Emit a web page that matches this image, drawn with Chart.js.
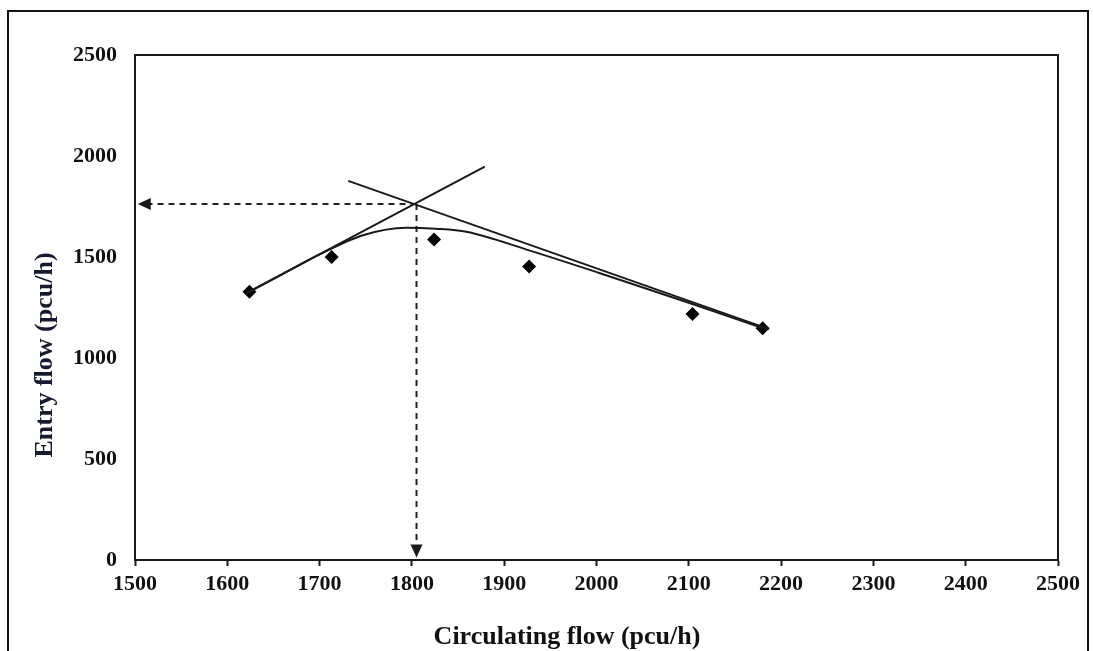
<!DOCTYPE html>
<html>
<head>
<meta charset="utf-8">
<title>Entry flow vs circulating flow</title>
<script src="https://cdn.jsdelivr.net/npm/chart.js@4/dist/chart.umd.min.js"></script>
<style>
  html, body { margin: 0; padding: 0; background: #fff; }
  #wrap { position: relative; width: 1093px; height: 651px; }
</style>
</head>
<body>
<div id="wrap"><canvas id="flowChart" width="1093" height="651"></canvas></div>
<script>
// observed entry flow against circulating flow (pcu/h)
const obsCirc  = [1624, 1713, 1824, 1927, 2104, 2180];
const obsEntry = [1328, 1500, 1587, 1453, 1218, 1147];

// fitted curve through the observations
const fitCirc  = [1624, 1660, 1700, 1747, 1794, 1826, 1859, 1927, 2003, 2104, 2180];
const fitEntry = [1328, 1415, 1513, 1608, 1645, 1640, 1625, 1533, 1421, 1267, 1148];

// the two straight asymptotes (start and end points)
const riseCirc  = [1620, 1879];
const riseEntry = [1320, 1947];
const fallCirc  = [1731, 2187];
const fallEntry = [1877, 1143];

// capacity read-off at the intersection
const capCirc  = 1805;
const capEntry = 1762;
const guideEnds = { circ: 1503, entry: 12 };

const xTicks = [1500, 1600, 1700, 1800, 1900, 2000, 2100, 2200, 2300, 2400, 2500];
const yTicks = [0, 500, 1000, 1500, 2000, 2500];

const ink = '#1a1a1a';
const serif = "'Liberation Serif', 'Times New Roman', serif";

function pts(xs, ys) {
  return xs.map((x, i) => ({ x: x, y: ys[i] }));
}

// outer frame, plot box, arrowheads and axis titles
const extras = {
  id: 'extras',
  beforeDraw(chart) {
    const ctx = chart.ctx;
    ctx.save();
    ctx.fillStyle = '#fff';
    ctx.fillRect(0, 0, chart.width, chart.height);
    ctx.strokeStyle = '#111';
    ctx.lineWidth = 2;
    ctx.beginPath();
    ctx.moveTo(8, 651);
    ctx.lineTo(8, 11);
    ctx.lineTo(1088, 11);
    ctx.lineTo(1088, 651);
    ctx.stroke();
    ctx.restore();
  },
  afterDraw(chart) {
    const ctx = chart.ctx;
    const a = chart.chartArea;
    const xs = chart.scales.x, ys = chart.scales.y;
    ctx.save();
    ctx.strokeStyle = ink;
    ctx.lineWidth = 2;
    ctx.strokeRect(a.left, a.top, a.right - a.left, a.bottom - a.top);

    // arrowheads at the ends of the dashed guides
    ctx.fillStyle = ink;
    const lx = xs.getPixelForValue(guideEnds.circ);
    const ly = ys.getPixelForValue(capEntry);
    ctx.beginPath();
    ctx.moveTo(lx, ly);
    ctx.lineTo(lx + 13, ly - 6);
    ctx.lineTo(lx + 13, ly + 6);
    ctx.closePath();
    ctx.fill();
    const dx = xs.getPixelForValue(capCirc);
    const dy = ys.getPixelForValue(guideEnds.entry);
    ctx.beginPath();
    ctx.moveTo(dx, dy);
    ctx.lineTo(dx - 6, dy - 13);
    ctx.lineTo(dx + 6, dy - 13);
    ctx.closePath();
    ctx.fill();

    // axis titles
    ctx.font = 'bold 26px ' + serif;
    ctx.textAlign = 'center';
    ctx.textBaseline = 'middle';
    ctx.fillStyle = '#111';
    ctx.fillText('Circulating flow (pcu/h)', 567, 637);
    ctx.translate(45, 355);
    ctx.rotate(-Math.PI / 2);
    ctx.fillStyle = '#161b30';
    ctx.fillText('Entry flow (pcu/h)', 0, 0);
    ctx.restore();
  }
};

const lineStyle = {
  showLine: true,
  borderColor: ink,
  borderWidth: 2,
  pointRadius: 0,
  fill: false
};

const plain = v => String(v);

const chart = new Chart(document.getElementById('flowChart'), {
  type: 'scatter',
  data: {
    datasets: [
      { ...lineStyle, label: 'rise', data: pts(riseCirc, riseEntry) },
      { ...lineStyle, label: 'fall', data: pts(fallCirc, fallEntry) },
      { ...lineStyle, label: 'fit', data: pts(fitCirc, fitEntry), cubicInterpolationMode: 'monotone' },
      { ...lineStyle, label: 'capH', borderColor: '#222', borderDash: [6, 5],
        data: [{ x: capCirc, y: capEntry }, { x: guideEnds.circ + 12, y: capEntry }] },
      { ...lineStyle, label: 'capV', borderColor: '#222', borderDash: [6, 5],
        data: [{ x: capCirc, y: capEntry }, { x: capCirc, y: guideEnds.entry + 60 }] },
      {
        label: 'observed',
        data: pts(obsCirc, obsEntry),
        pointStyle: 'rectRot',
        pointRadius: 7,
        backgroundColor: '#000',
        borderColor: '#000',
        borderWidth: 0,
        showLine: false
      }
    ]
  },
  options: {
    responsive: false,
    animation: false,
    devicePixelRatio: 1,
    layout: { padding: { left: 0, top: 55, right: 35, bottom: 0 } },
    plugins: {
      legend: { display: false },
      tooltip: { enabled: false }
    },
    scales: {
      x: {
        type: 'linear',
        min: 1500,
        max: 2500,
        afterFit: s => { s.height = 91; },
        afterBuildTicks: s => { s.ticks = xTicks.map(v => ({ value: v })); },
        grid: { drawOnChartArea: false, drawTicks: true, tickLength: 6, tickColor: ink, tickWidth: 2 },
        border: { display: true, color: ink, width: 2 },
        ticks: { color: '#111', padding: 5, callback: plain, font: { family: serif, size: 22, weight: 'bold' } }
      },
      y: {
        type: 'linear',
        min: 0,
        max: 2500,
        afterFit: s => { s.width = 135; },
        afterBuildTicks: s => { s.ticks = yTicks.map(v => ({ value: v })); },
        grid: { drawOnChartArea: false, drawTicks: false },
        border: { display: true, color: ink, width: 2 },
        ticks: { color: '#111', padding: 18, callback: plain, font: { family: serif, size: 22, weight: 'bold' } }
      }
    }
  },
  plugins: [extras]
});
</script>
</body>
</html>
